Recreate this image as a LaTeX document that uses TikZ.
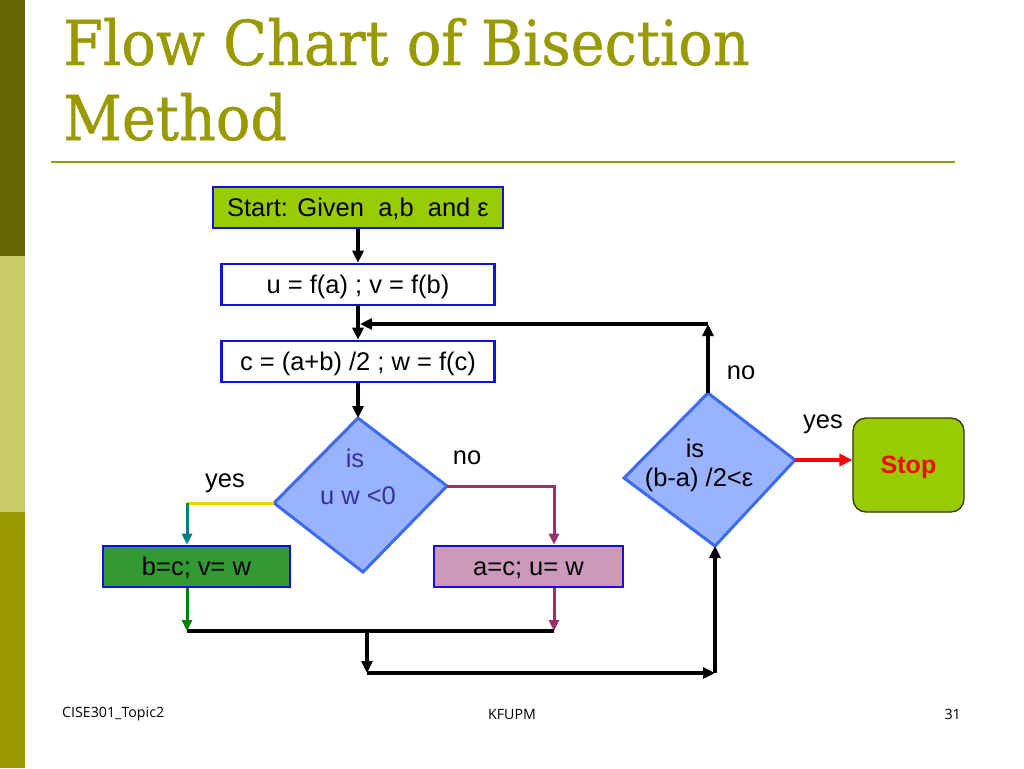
\documentclass[tikz,border=0pt]{standalone}
\usepackage{fontspec}
\setmainfont{Liberation Sans}
\newfontfamily\titlefont[FakeBold=0.8]{DejaVu Serif}
\newfontfamily\footfont{Open Sans}
\usetikzlibrary{arrows.meta}
\definecolor{olive}{HTML}{999900}
\definecolor{sbdark}{HTML}{666600}
\definecolor{sblight}{HTML}{CCCC66}
\definecolor{limefill}{HTML}{99CC00}
\definecolor{boxblue}{HTML}{1010E0}
\definecolor{dfill}{HTML}{99B3FF}
\definecolor{dborder}{HTML}{3D6BF0}
\definecolor{dtext}{HTML}{333399}
\definecolor{bcfill}{HTML}{339933}
\definecolor{acfill}{HTML}{CC99BB}
\definecolor{tealc}{HTML}{008080}
\definecolor{yellowc}{HTML}{FFCC00}
\definecolor{maroonc}{HTML}{993366}
\definecolor{greenc}{HTML}{008000}
\definecolor{stopborder}{HTML}{333300}
\tikzset{
  procbox/.style={draw=boxblue, line width=2.6pt, minimum height=41pt, inner sep=0pt,
    text height=20pt, text depth=2pt, font=\fontsize{25.5}{29}\selectfont},
  decision/.style={fill=dfill, draw=dborder, line width=3pt, line join=miter},
  lbl/.style={font=\fontsize{25.5}{29}\selectfont, inner sep=0pt},
  flow/.style={line width=3.5pt, -{Triangle[length=12pt,width=11pt]}},
  thinflow/.style={line width=3pt, -{Triangle[length=11pt,width=10pt]}},
  foot/.style={font=\footfont\fontsize{14.2}{17}\selectfont, inner sep=0pt},
}
\begin{document}
\begin{tikzpicture}[x=1pt,y=-1pt]
\useasboundingbox (0,0) rectangle (1024,768);
% sidebar
\fill[sbdark] (0,0) rectangle (25,256);
\fill[sblight] (0,256) rectangle (25,512);
\fill[olive] (0,512) rectangle (25,768);
% title
\node[anchor=base west, inner sep=0pt, text=olive] (t1) at (63,65)
  {\titlefont\fontsize{62}{70}\selectfont\scalebox{0.925}[1]{Flow Chart of Bisection}};
\node[anchor=base west, inner sep=0pt, text=olive] (t2) at (63,140)
  {\titlefont\fontsize{62}{70}\selectfont\scalebox{0.925}[1]{Method}};
\draw[olive, line width=2.5pt] (51,162) -- (955,162);
% boxes
\node[procbox, fill=limefill, minimum width=290pt] (start) at (358,207.5) {Start: Given\ \ a,b\ \ and ε};
\node[procbox, fill=white, minimum width=273pt] (u) at (358,284.5) {u = f(a) ; v = f(b)};
\node[procbox, fill=white, minimum width=273pt] (c) at (358,361.5) {c = (a+b) /2 ; w = f(c)};
\node[procbox, fill=bcfill, minimum width=187pt] (bc) at (196.5,566.5) {b=c; v= w};
\node[procbox, fill=acfill, minimum width=189pt] (ac) at (528.5,566.5) {a=c; u= w};
\node[draw=stopborder, line width=1.3pt, fill=limefill, rounded corners=13pt,
  minimum width=111pt, minimum height=94pt, inner sep=0pt, text height=18pt, text depth=2pt,
  text=red, font=\bfseries\fontsize{25}{29}\selectfont] (stop) at (908.5,465) {Stop};
% diamond 1
\coordinate (d1t) at (358,418);
\coordinate (d1l) at (274,503);
\coordinate (d1r) at (447,486);
\coordinate (d1b) at (363,572);
\path[decision] (d1t) -- (d1r) -- (d1b) -- (d1l) -- cycle;
\node[lbl, text=dtext] (d1a) at (355,458) {is};
\node[lbl, text=dtext] (d1c) at (358,496) {u w <0};
% diamond 2
\coordinate (d2t) at (708,393);
\coordinate (d2l) at (624,478);
\coordinate (d2r) at (795,460);
\coordinate (d2b) at (715,546);
\path[decision] (d2t) -- (d2r) -- (d2b) -- (d2l) -- cycle;
\node[lbl] (d2a) at (695,448) {is};
\node[lbl] (d2c) at (699,480) {(b-a) /2<ε};
% labels
\node[lbl] (yes1) at (225,483) {yes};
\node[lbl] (no1) at (467,458) {no};
\node[lbl] (no2) at (741,373) {no};
\node[lbl] (yes2) at (823,424) {yes};
% connectors
\draw[flow] (start.south) -- (u.north);
\draw[flow] (u.south) -- (c.north);
\draw[flow] (c.south) -- (d1t);
\coordinate (ybend) at (187,503);
\coordinate (nbend) at (554,486);
\draw[yellowc, line width=3pt] (d1l) -- (ybend);
\draw[tealc, thinflow] (ybend) -- (ybend |- bc.north);
\draw[maroonc, thinflow] (d1r) -- (nbend) -- (nbend |- ac.north);
\coordinate (jl) at (187,631);
\coordinate (jr) at (554,631);
\coordinate (jm) at (367,631);
\coordinate (jb) at (367,673);
\coordinate (jc) at (715,673);
\draw[greenc, thinflow] (ybend |- bc.south) -- (jl);
\draw[maroonc, thinflow] (nbend |- ac.south) -- (jr);
\draw[line width=4pt] (jl) -- (jr);
\draw[flow] (jm) -- (jb);
\draw[flow] (jb) -- (jc);
\draw[flow] (jc) -- (d2b);
\coordinate (ft) at (708,324);
\coordinate (fl) at (360,324);
\draw[flow] (d2t) -- (ft);
\draw[flow] (ft) -- (fl);
\draw[red, line width=4pt, -{Triangle[length=13pt,width=12pt]}] (d2r) -- (d2r -| stop.west);
% footer
\node[foot, anchor=west] (f1) at (62,714) {CISE301\_Topic2};
\node[foot] (f2) at (512,714) {KFUPM};
\node[foot, anchor=east] (f3) at (961,714) {31};
\end{tikzpicture}
\end{document}
